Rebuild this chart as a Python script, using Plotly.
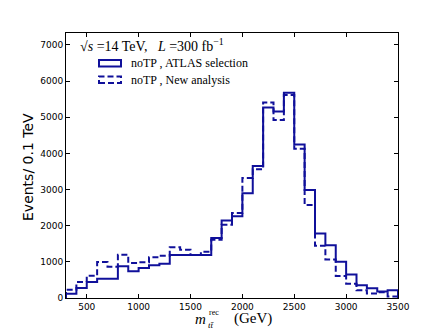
import plotly.graph_objects as go

# ---- data ----
bin_edges = list(range(300, 3600, 100))  # 300..3500
atlas_sel = [120, 276, 442, 535, 535, 876, 737, 830, 903, 949,
             1189, 1189, 1189, 1189, 1659, 2147, 2258, 2900, 3651, 5269,
             5159, 5680, 4245, 2984, 1786, 1457, 1000, 653, 351, 269, 177, 214]
new_ana = [230, 442, 617, 995, 866, 1198, 968, 986, 1124, 1170,
           1401, 1336, 1189, 1281, 1613, 2028, 2350, 3318, 3560, 5406,
           4921, 5616, 4126, 2572, 1448, 1064, 607, 397, 214, 122, 159, 40]
x_ticks = [500, 1000, 1500, 2000, 2500, 3000, 3500]
y_ticks = [0, 1000, 2000, 3000, 4000, 5000, 6000, 7000]
series_names = ["noTP , ATLAS selection", "noTP , New analysis"]

COL = "#10109a"
W, H = 443, 332
L, R, T, B = 66, 398, 33, 298


def step_xy(edges, vals):
    xs = [edges[0]] + list(edges[:-1]) + [edges[-1], edges[-1]]
    ys = [0] + list(vals) + [vals[-1], 0]
    return xs, ys


def px(x):
    return (x - L) / (R - L)


def py(y):
    return (B - y) / (B - T)


fig = go.Figure()
xd, yd = step_xy(bin_edges, new_ana)
fig.add_trace(go.Scatter(x=xd, y=yd, mode="lines", line_shape="hv",
                         line=dict(color=COL, width=2, dash="6px,3px"),
                         showlegend=False))
xs, ys = step_xy(bin_edges, atlas_sel)
fig.add_trace(go.Scatter(x=xs, y=ys, mode="lines", line_shape="hv",
                         line=dict(color=COL, width=2),
                         showlegend=False))

axis_common = dict(showline=True, linecolor="black", linewidth=1, mirror="ticks",
                   ticks="inside", ticklen=4, tickcolor="black", showgrid=False,
                   zeroline=False, tickfont=dict(family="DejaVu Sans", size=9, color="black"))
fig.update_xaxes(range=[300, 3500], tickvals=x_ticks, **axis_common)
fig.update_yaxes(range=[0, 7330], tickvals=y_ticks, **axis_common)

serif = "Liberation Serif"
anns = [
    dict(x=px(28), y=py(167), text="Events/ 0.1 TeV", textangle=-90,
         font=dict(family="DejaVu Sans", size=14, color="black"),
         xanchor="center", yanchor="middle"),
    dict(x=px(208), y=py(319), text="<i>m</i>", font=dict(family=serif, size=15, color="black"),
         xanchor="right", yanchor="middle"),
    dict(x=px(207), y=py(312), text="rec", font=dict(family=serif, size=8, color="black"),
         xanchor="left", yanchor="middle"),
    dict(x=px(206), y=py(325), text="<i>tt̄</i>", font=dict(family=serif, size=9, color="black"),
         xanchor="left", yanchor="middle"),
    dict(x=px(232), y=py(318), text="(GeV)", font=dict(family=serif, size=15, color="black"),
         xanchor="left", yanchor="middle"),
    dict(x=px(78), y=py(45), text="√<i>s</i> =14 TeV,   <i>L</i> =300 fb<sup>−1</sup>",
         font=dict(family=serif, size=14, color="black"), xanchor="left", yanchor="middle"),
    dict(x=px(129), y=py(63.5), text=series_names[0],
         font=dict(family=serif, size=12, color="black"), xanchor="left", yanchor="middle"),
    dict(x=px(129), y=py(80), text=series_names[1],
         font=dict(family=serif, size=12, color="black"), xanchor="left", yanchor="middle"),
]
for a in anns:
    a.update(xref="paper", yref="paper", showarrow=False)
fig.update_layout(annotations=anns)

fig.add_shape(type="rect", xref="paper", yref="paper",
              x0=px(99), x1=px(121), y0=py(66.5), y1=py(60),
              line=dict(color=COL, width=2))
fig.add_shape(type="rect", xref="paper", yref="paper",
              x0=px(99), x1=px(121), y0=py(83), y1=py(76.5),
              line=dict(color=COL, width=2, dash="6px,3px"))

fig.update_layout(width=W, height=H, margin=dict(l=L, r=W - R, t=T, b=H - B),
                  plot_bgcolor="white", paper_bgcolor="white", showlegend=False)

fig.write_html("out.html", config={"displayModeBar": False},
               post_script="document.body.style.margin='0';document.body.style.overflow='hidden';")
